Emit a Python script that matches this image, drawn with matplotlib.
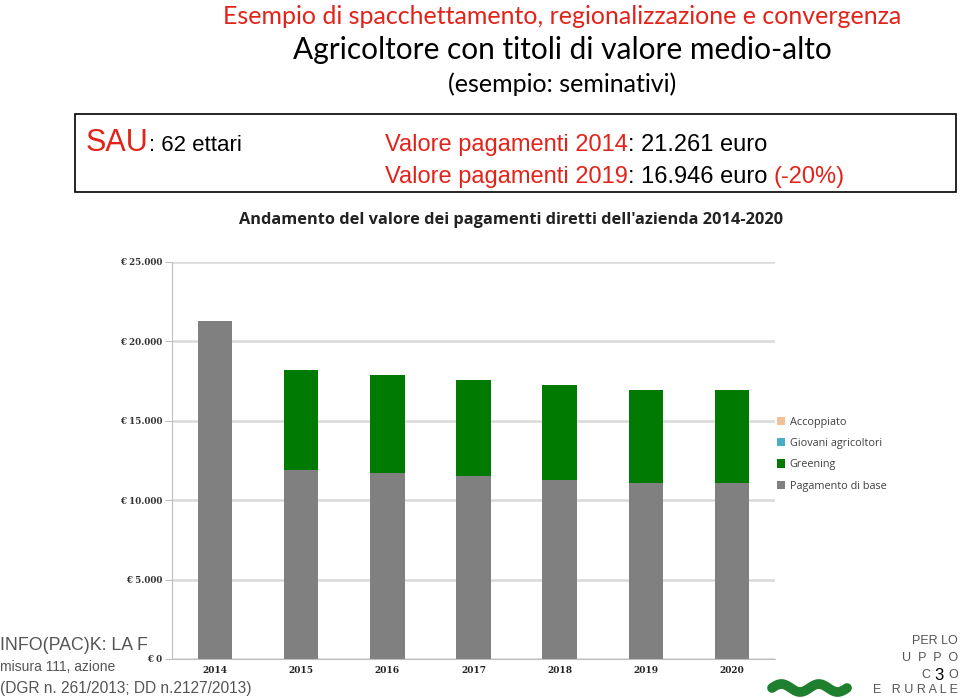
import matplotlib
matplotlib.use("Agg")
import matplotlib.pyplot as plt
import numpy as np
from matplotlib.patches import Rectangle

years = ["2014", "2015", "2016", "2017", "2018", "2019", "2020"]
pagamento_base = [21261, 11920, 11710, 11520, 11290, 11080, 11080]
greening = [0, 6250, 6170, 6050, 5940, 5866, 5866]
giovani = [0, 0, 0, 0, 0, 0, 0]
accoppiato = [0, 0, 0, 0, 0, 0, 0]
yticks = [0, 5000, 10000, 15000, 20000, 25000]
ytick_labels = ["€ 0", "€ 5.000", "€ 10.000", "€ 15.000", "€ 20.000", "€ 25.000"]

C_BASE = "#808080"
C_GREEN = "#007A00"
C_GIOV = "#4BACC6"
C_ACC = "#F2C097"
RED = "#E2231A"

W, H = 960, 698
fig = plt.figure(figsize=(W / 100, H / 100), dpi=100)
fig.patch.set_facecolor("white")

def fx(px):
    return px / W

def fy(py):
    return 1 - py / H

ax = fig.add_axes([fx(172), fy(659), fx(775) - fx(172), fy(262) - fy(659)])
x = np.arange(len(years))
bw = 0.4
b0 = np.array(pagamento_base, dtype=float)
b1 = b0 + np.array(greening)
b2 = b1 + np.array(giovani)
ax.bar(x, pagamento_base, width=bw, color=C_BASE, label="Pagamento di base", zorder=3)
ax.bar(x, greening, width=bw, bottom=b0, color=C_GREEN, label="Greening", zorder=3)
ax.bar(x, giovani, width=bw, bottom=b1, color=C_GIOV, label="Giovani agricoltori", zorder=3)
ax.bar(x, accoppiato, width=bw, bottom=b2, color=C_ACC, label="Accoppiato", zorder=3)

ax.set_xlim(-0.5, len(years) - 0.5)
ax.set_ylim(0, 25000)
ax.set_yticks(yticks)
ax.set_yticklabels(ytick_labels, fontsize=6.3, fontweight="bold", color="#333333", family="DejaVu Serif")
ax.set_xticks(x)
ax.set_xticklabels(years, fontsize=6.5, fontweight="bold", color="#222222", family="DejaVu Serif")
ax.yaxis.grid(True, color="#D9D9D9", linewidth=1.8, zorder=0)
ax.set_axisbelow(True)
for s in ["top", "right"]:
    ax.spines[s].set_visible(False)
ax.spines["left"].set_color("#BFBFBF")
ax.spines["bottom"].set_color("#BFBFBF")
ax.tick_params(axis="y", length=5, color="#BFBFBF", pad=2)
ax.tick_params(axis="x", length=0, pad=5)

handles, labels = ax.get_legend_handles_labels()
leg = fig.legend(handles[::-1], labels[::-1], loc="upper left",
                 bbox_to_anchor=(fx(767), fy(407)), frameon=False,
                 prop={"family": "Open Sans", "size": 7.8}, labelspacing=0.95,
                 handlelength=0.8, handleheight=0.8, handletextpad=0.4,
                 labelcolor="#404040")

fig.text(fx(239), fy(220), "Andamento del valore dei pagamenti diretti dell'azienda 2014-2020",
         fontsize=11.8, fontweight="bold", family="Open Sans", color="#222222",
         ha="left", va="center")

# Header
fig.text(fx(562), fy(16), "Esempio di spacchettamento, regionalizzazione e convergenza",
         color=RED, fontsize=18, family="Lato", ha="center", va="center")
fig.text(fx(562), fy(50), "Agricoltore con titoli di valore medio-alto",
         color="black", fontsize=21.5, family="Lato", ha="center", va="center")
fig.text(fx(562), fy(84), "(esempio: seminativi)",
         color="black", fontsize=18, family="Lato", ha="center", va="center")

fig.patches.append(Rectangle((fx(75), fy(192)), fx(956) - fx(75), fy(114) - fy(192),
                             transform=fig.transFigure, fill=False, edgecolor="black",
                             linewidth=1.2))

renderer = fig.canvas.get_renderer()

def seq(xpx, ypx, parts):
    xcur = fx(xpx)
    for txt, col, size in parts:
        t = fig.text(xcur, fy(ypx), txt, color=col, fontsize=size,
                     family="Liberation Sans", ha="left", va="baseline")
        bb = t.get_window_extent(renderer=renderer)
        xcur = bb.x1 / W

seq(86, 151, [("SAU", RED, 22), (": 62 ettari", "black", 16)])
seq(385, 151, [("Valore pagamenti 2014", RED, 17), (": 21.261 euro", "black", 17)])
seq(385, 183, [("Valore pagamenti 2019", RED, 17), (": 16.946 euro ", "black", 17), ("(-20%)", RED, 17)])

# footer overlay
grey = "#555555"
fig.text(0.0, fy(646), "INFO(PAC)K: LA F", color=grey, fontsize=12.8, family="Liberation Sans", va="center")
fig.text(0.0, fy(667), "misura 111, azione", color=grey, fontsize=10, family="Liberation Sans", va="center")
fig.text(0.0, fy(688), "(DGR n. 261/2013; DD n.2127/2013)", color=grey, fontsize=11.2, family="Liberation Sans", va="center")
fig.text(fx(958), fy(641), "PER LO", color=grey, fontsize=9, family="Liberation Sans", ha="right", va="center")
fig.text(fx(958), fy(658), "U  P  P  O", color=grey, fontsize=9, family="Liberation Sans", ha="right", va="center")
fig.text(fx(926), fy(675), "C", color=grey, fontsize=9, family="Liberation Sans", ha="center", va="center")
fig.text(fx(958), fy(675), "O", color=grey, fontsize=9, family="Liberation Sans", ha="right", va="center")
fig.text(fx(939), fy(675), "3", color="black", fontsize=12, family="Liberation Sans", ha="center", va="center")
fig.text(fx(958), fy(690), "E   R U R A L E", color=grey, fontsize=9, family="Liberation Sans", ha="right", va="center")
t = np.linspace(0, 1, 60)
fig.add_artist(matplotlib.lines.Line2D(fx(772 + 75 * t), fy(688 - 4 * np.sin(t * 4 * np.pi)),
                                       color="#1E7F2E", linewidth=7, solid_capstyle="round"))

fig.savefig("out.png", dpi=100, facecolor="white")
